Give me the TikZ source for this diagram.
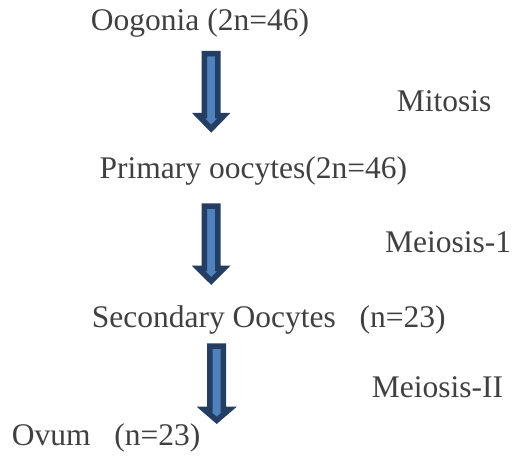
\documentclass[tikz,border=0pt]{standalone}
\usepackage{fontspec}
\setmainfont{Liberation Serif}
\definecolor{arrowedge}{RGB}{36,62,99}
\definecolor{arrowfill}{RGB}{79,129,189}
\definecolor{labeltext}{RGB}{64,64,64}

% block arrow pointing down: #1 centre x, #2 top y, #3 y of head base, #4 tip y
\newcommand\blockdownarrow[4]{%
  \draw[blockarrow]
    (#1-6.75,#2+2.75) -- (#1+6.75,#2+2.75) -- (#1+6.75,#3+2.75)
    -- (#1+12.65,#3+2.75) -- (#1,#4-3.94) -- (#1-12.65,#3+2.75)
    -- (#1-6.75,#3+2.75) -- cycle;}

\tikzset{
  blockarrow/.style={draw=arrowedge, fill=arrowfill, line width=5.5pt, line join=miter},
  stage/.style={anchor=base west, inner sep=0pt, text=labeltext,
    font=\fontsize{31.5}{36}\selectfont},
}

\begin{document}
\begin{tikzpicture}[x=1pt, y=-1pt]
  \useasboundingbox (0,0) rectangle (512,457);

  % stages
  \node[stage] (oogonia)   at (90.7,30.5)  {Oogonia (2n=46)};
  \node[stage] (primary)   at (99.5,179)   {Primary oocytes(2n=46)};
  \node[stage] (secondary) at (91.7,328)   {Secondary Oocytes~~~(n=23)};
  \node[stage] (ovum)      at (11.7,446)   {Ovum~~~(n=23)};

  % divisions
  \node[stage] (mitosis)  at (396.7,112) {Mitosis};
  \node[stage] (meiosisA) at (385,253)   {Meiosis-1};
  \node[stage] (meiosisB) at (371.7,398) {Meiosis-II};

  % arrows between stages
  \blockdownarrow{211.2}{51}{113}{132.7}
  \blockdownarrow{211.2}{203.3}{265.7}{285}
  \blockdownarrow{216.7}{343.3}{406.7}{424.3}
\end{tikzpicture}
\end{document}
